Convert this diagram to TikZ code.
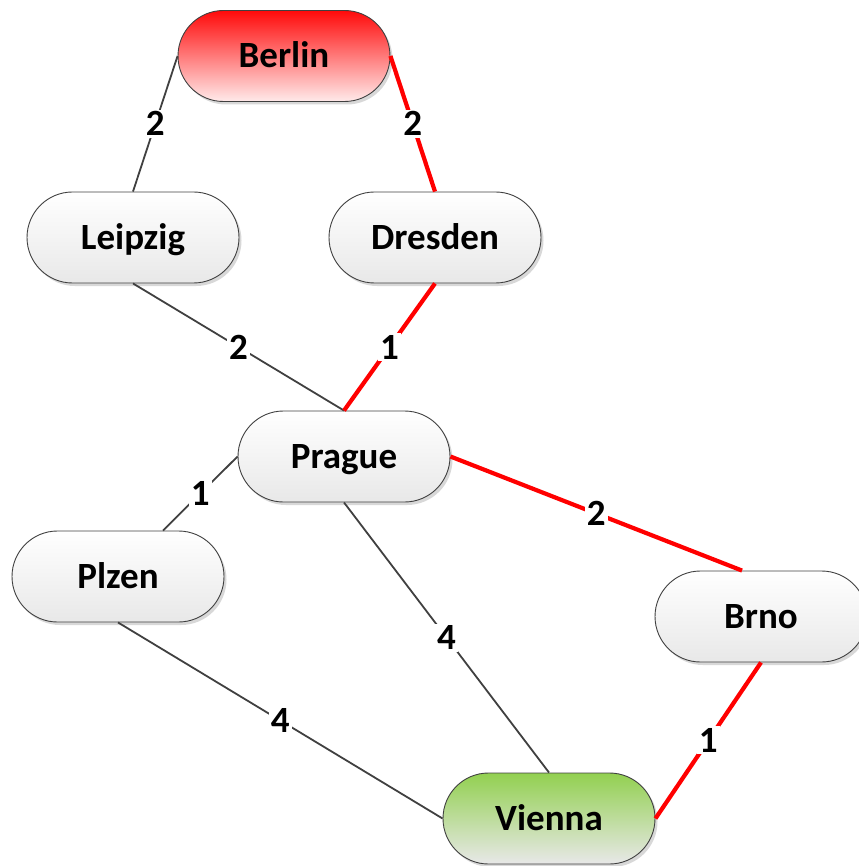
\documentclass[tikz,border=0pt]{standalone}
\usepackage{fontspec}
\setmainfont{Carlito}
\usetikzlibrary{shadows,calc}
\definecolor{edgegrey}{HTML}{404040}
\definecolor{berlinred}{HTML}{FF0A0A}
\definecolor{viennagreen}{HTML}{92D050}
\definecolor{nodebottom}{HTML}{E8E8E8}
\tikzset{
  city/.style={draw=edgegrey, line width=0.9pt, rectangle, rounded corners=45.5pt,
    minimum width=212pt, minimum height=91pt, inner sep=0pt,
    text height=23.4pt, text depth=0pt,
    top color=white, bottom color=nodebottom,
    font=\fontsize{37}{44}\selectfont\bfseries,
    drop shadow={shadow xshift=2.5pt, shadow yshift=-3pt, fill=black!30, opacity=0.5}},
  plain/.style={draw=edgegrey, line width=1.8pt},
  hot/.style={draw=red, line width=4.2pt},
  wt/.style={fill=white, inner sep=2pt, font=\fontsize{37}{44}\selectfont\bfseries}
}
\begin{document}
\begin{tikzpicture}[x=1pt,y=-1pt]
\useasboundingbox (0,0) rectangle (858,866);
\node[city, top color=berlinred, bottom color=red!8!white] (berlin) at (284,56) {Berlin};
\node[city] (leipzig) at (133,237.5) {Leipzig};
\node[city] (dresden) at (435,237.5) {Dresden};
\node[city] (prague) at (344,456.5) {Prague};
\node[city] (plzen) at (118,576.5) {Plzen};
\node[city] (brno) at (761,616.5) {Brno};
\node[city, top color=viennagreen, bottom color=nodebottom] (vienna) at (549,818.5) {Vienna};

\draw[plain] (berlin.west) -- node[wt] {2} (leipzig.north);
\draw[hot] (berlin.east) -- node[wt] {2} (dresden.north);
\draw[plain] (leipzig.south) -- node[wt] {2} (prague.north);
\draw[hot] (dresden.south) -- node[wt] {1} (prague.north);
\draw[plain] (prague.west) -- node[wt] {1} ($(plzen.north)+(45,0)$);
\draw[hot] (prague.east) -- node[wt] {2} ($(brno.north)+(-19,0)$);
\draw[plain] (prague.south) -- node[wt] {4} (vienna.north);
\draw[plain] (plzen.south) -- node[wt] {4} (vienna.west);
\draw[hot] (brno.south) -- node[wt] {1} (vienna.east);
\end{tikzpicture}
\end{document}
